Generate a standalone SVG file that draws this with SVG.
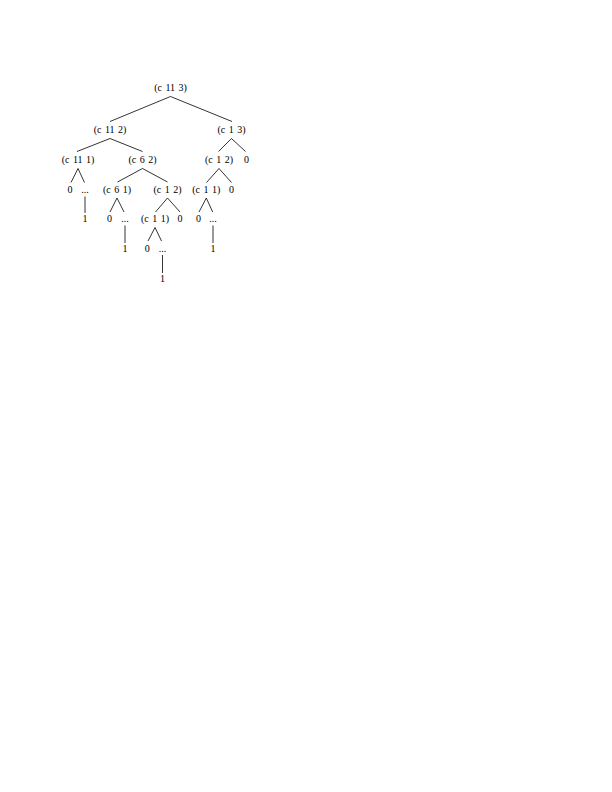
<svg xmlns="http://www.w3.org/2000/svg" width="612" height="792" viewBox="0 0 612 792">
<style>
text{font-family:"Liberation Serif","Times New Roman",serif;font-size:10px;word-spacing:1px;fill:#000;text-anchor:middle}
.e line{stroke:#000;stroke-width:0.8;fill:none}
</style>
<rect width="612" height="792" fill="#fff"/>
<g id="connectors" class="e">
<line x1="170.5" y1="96.5" x2="110" y2="121.5"/>
<line x1="170.5" y1="96.5" x2="232" y2="121.5"/>
<line x1="110" y1="138.5" x2="77" y2="151.5"/>
<line x1="110" y1="138.5" x2="142.5" y2="151.5"/>
<line x1="231.5" y1="138.5" x2="218.5" y2="151.5"/>
<line x1="231.5" y1="138.5" x2="245.5" y2="151.5"/>
<line x1="78" y1="168.5" x2="71" y2="182.5"/>
<line x1="78" y1="168.5" x2="84.5" y2="182.5"/>
<line x1="142.5" y1="168.5" x2="117.5" y2="182"/>
<line x1="142.5" y1="168.5" x2="167.5" y2="182"/>
<line x1="219" y1="168.5" x2="206.5" y2="182.5"/>
<line x1="219" y1="168.5" x2="231.5" y2="182.5"/>
<line x1="85" y1="196.5" x2="85" y2="213"/>
<line x1="117" y1="198" x2="110" y2="212"/>
<line x1="117" y1="198" x2="124" y2="212"/>
<line x1="167.5" y1="198" x2="155.5" y2="212"/>
<line x1="167.5" y1="198" x2="180" y2="212"/>
<line x1="206.3" y1="198" x2="199" y2="212"/>
<line x1="206.3" y1="198" x2="212.7" y2="212"/>
<line x1="125" y1="225.5" x2="125" y2="243"/>
<line x1="155" y1="227.5" x2="148" y2="241"/>
<line x1="155" y1="227.5" x2="161.5" y2="241"/>
<line x1="213" y1="225.5" x2="213" y2="243"/>
<line x1="162.5" y1="255" x2="162.5" y2="273"/>
</g>
<g id="n_c113"><text x="170.5" y="91">(c 11 3)</text></g>
<g id="n_c112"><text x="110" y="133">(c 11 2)</text></g>
<g id="n_c13"><text x="231.5" y="133">(c 1 3)</text></g>
<g id="n_c111"><text x="78" y="162.5">(c 11 1)</text></g>
<g id="n_c62"><text x="142.5" y="162.5">(c 6 2)</text></g>
<g id="n_c12a"><text x="219" y="162.5">(c 1 2)</text></g>
<g id="n_0a"><text x="246.5" y="162.5">0</text></g>
<g id="n_0b"><text x="70" y="192.5">0</text></g>
<g id="n_dotsa"><text x="85" y="192.5">...</text></g>
<g id="n_c61"><text x="117" y="192.5">(c 6 1)</text></g>
<g id="n_c12b"><text x="167.5" y="192.5">(c 1 2)</text></g>
<g id="n_c11a"><text x="206.3" y="192.5">(c 1 1)</text></g>
<g id="n_0c"><text x="231.5" y="192.5">0</text></g>
<g id="n_1a"><text x="85" y="222">1</text></g>
<g id="n_0d"><text x="109.5" y="222">0</text></g>
<g id="n_dotsb"><text x="125" y="222">...</text></g>
<g id="n_c11b"><text x="155" y="222">(c 1 1)</text></g>
<g id="n_0e"><text x="180" y="222">0</text></g>
<g id="n_0f"><text x="198.5" y="222">0</text></g>
<g id="n_dotsc"><text x="213" y="222">...</text></g>
<g id="n_1b"><text x="125" y="251.5">1</text></g>
<g id="n_0g"><text x="147.3" y="251.5">0</text></g>
<g id="n_dotsd"><text x="162.5" y="251.5">...</text></g>
<g id="n_1c"><text x="213" y="251.5">1</text></g>
<g id="n_1d"><text x="162.5" y="281.5">1</text></g>
</svg>
